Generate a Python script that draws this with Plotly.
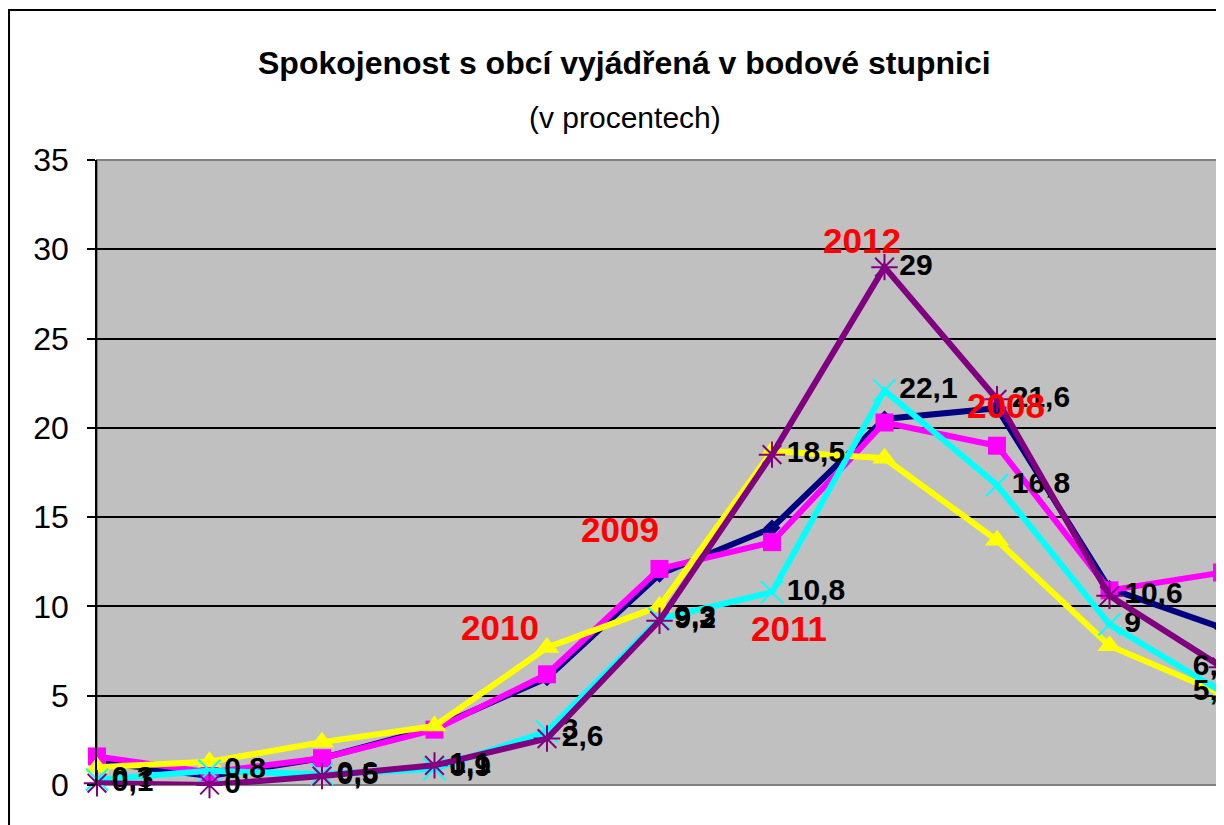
import plotly.graph_objects as go

categories = [0, 1, 2, 3, 4, 5, 6, 7, 8, 9, 10]
series_names = ["2008", "2009", "2010", "2011", "2012"]
v2008 = [1.3, 0.5, 1.5, 3.2, 6.0, 11.8, 14.4, 20.5, 21.1, 11.0, 8.8]
v2009 = [1.6, 0.7, 1.5, 3.1, 6.2, 12.1, 13.6, 20.3, 19.0, 10.9, 11.9]
v2010 = [1.0, 1.3, 2.4, 3.3, 7.7, 10.0, 18.7, 18.3, 13.7, 7.8, 5.1]
v2011 = [0.3, 0.8, 0.6, 0.9, 3.0, 9.3, 10.8, 22.1, 16.8, 9.0, 5.2]
v2012 = [0.1, 0.0, 0.5, 1.1, 2.6, 9.2, 18.5, 29.0, 21.6, 10.6, 6.6]
y_ticks = [0, 5, 10, 15, 20, 25, 30, 35]

FONT = "Arial, 'Liberation Sans', sans-serif"

def fmt(v):
    return f"{v:g}".replace(".", ",")

fig = go.Figure()

styles = [
    (v2008, "#000080", dict(symbol="diamond", size=13, color="#000080"), False),
    (v2009, "#FF00FF", dict(symbol="square", size=18, color="#FF00FF"), False),
    (v2010, "#FFFF00", dict(symbol="triangle-up", size=21, color="#FFFF00"), False),
    (v2011, "#00FFFF", dict(symbol="x-thin-open", size=22, color="#00FFFF",
                            line=dict(width=2, color="#00FFFF")), True),
    (v2012, "#800080", dict(symbol="asterisk-open", size=22, color="#800080",
                            line=dict(width=2, color="#800080")), True),
]

# last label is pulled inward (as the spreadsheet does at the plot edge)
n = len(categories)
text_pos = ["middle right"] * (n - 1) + ["middle center"]

def labels_for(vals):
    out = [fmt(v) for v in vals]
    out[-1] = out[-1] + "\u00a0\u00a0"
    return out

for name, (vals, col, mk, labels) in zip(series_names, styles):
    fig.add_trace(go.Scatter(
        x=categories, y=vals, name=name,
        mode="lines+markers+text" if labels else "lines+markers",
        line=dict(color=col, width=6),
        marker=mk,
        text=labels_for(vals) if labels else None,
        textposition=text_pos,
        textfont=dict(family=FONT, size=30, color="black", weight="bold"),
        cliponaxis=False,
        showlegend=False,
    ))

# red series-name labels attached to points
label_specs = [
    ("2012", v2012, 7, -23, 27),
    ("2008", v2008, 8, 9, 3),
    ("2009", v2009, 5, -40, 39),
    ("2010", v2010, 4, -47, 20),
    ("2011", v2011, 6, 17, -36),
]
for txt, vals, idx, dx, dy in label_specs:
    fig.add_annotation(
        x=categories[idx], y=vals[idx], xref="x", yref="y",
        text=f"<b>{txt}</b>", showarrow=False,
        xshift=dx, yshift=dy, xanchor="center", yanchor="middle",
        font=dict(family=FONT, size=35, color="#FF0000"),
    )

fig.add_annotation(
    x=0.4693, y=1.1552, xref="paper", yref="paper",
    text="<b>Spokojenost s obcí vyjádřená v bodové stupnici</b>",
    showarrow=False, xanchor="center", yanchor="middle",
    font=dict(family=FONT, size=32, color="black"),
)
fig.add_annotation(
    x=0.4693, y=1.0688, xref="paper", yref="paper",
    text="(v procentech)",
    showarrow=False, xanchor="center", yanchor="middle",
    font=dict(family=FONT, size=30, color="black"),
)

# outer chart frame
fig.add_shape(type="rect", xref="paper", yref="paper",
              x0=-0.0782, x1=1.2, y0=-0.3, y1=1.24,
              line=dict(color="black", width=2), layer="below")
# plot area border
fig.add_shape(type="rect", xref="paper", yref="paper",
              x0=0, x1=1, y0=0, y1=1,
              line=dict(color="#808080", width=2), layer="below")

fig.update_xaxes(range=[0, 10], showticklabels=False, showgrid=False,
                 zeroline=False, showline=False, ticks="")
fig.update_yaxes(range=[0, 35], tickvals=y_ticks, ticks="outside", ticklen=8,
                 tickcolor="black", tickwidth=1.5, ticklabelstandoff=12,
                 showgrid=True, gridcolor="black", gridwidth=1.5,
                 zeroline=False, showline=True, linecolor="black", linewidth=1.5,
                 tickfont=dict(family=FONT, size=32, color="black"))

# page body has an 8px margin; figure sized so the plot area lands where the reference has it
fig.update_layout(
    width=1216, height=817,
    margin=dict(l=89, r=2, t=152, b=40),
    plot_bgcolor="#C0C0C0", paper_bgcolor="white",
    showlegend=False,
)

fig.write_html("out.html")
